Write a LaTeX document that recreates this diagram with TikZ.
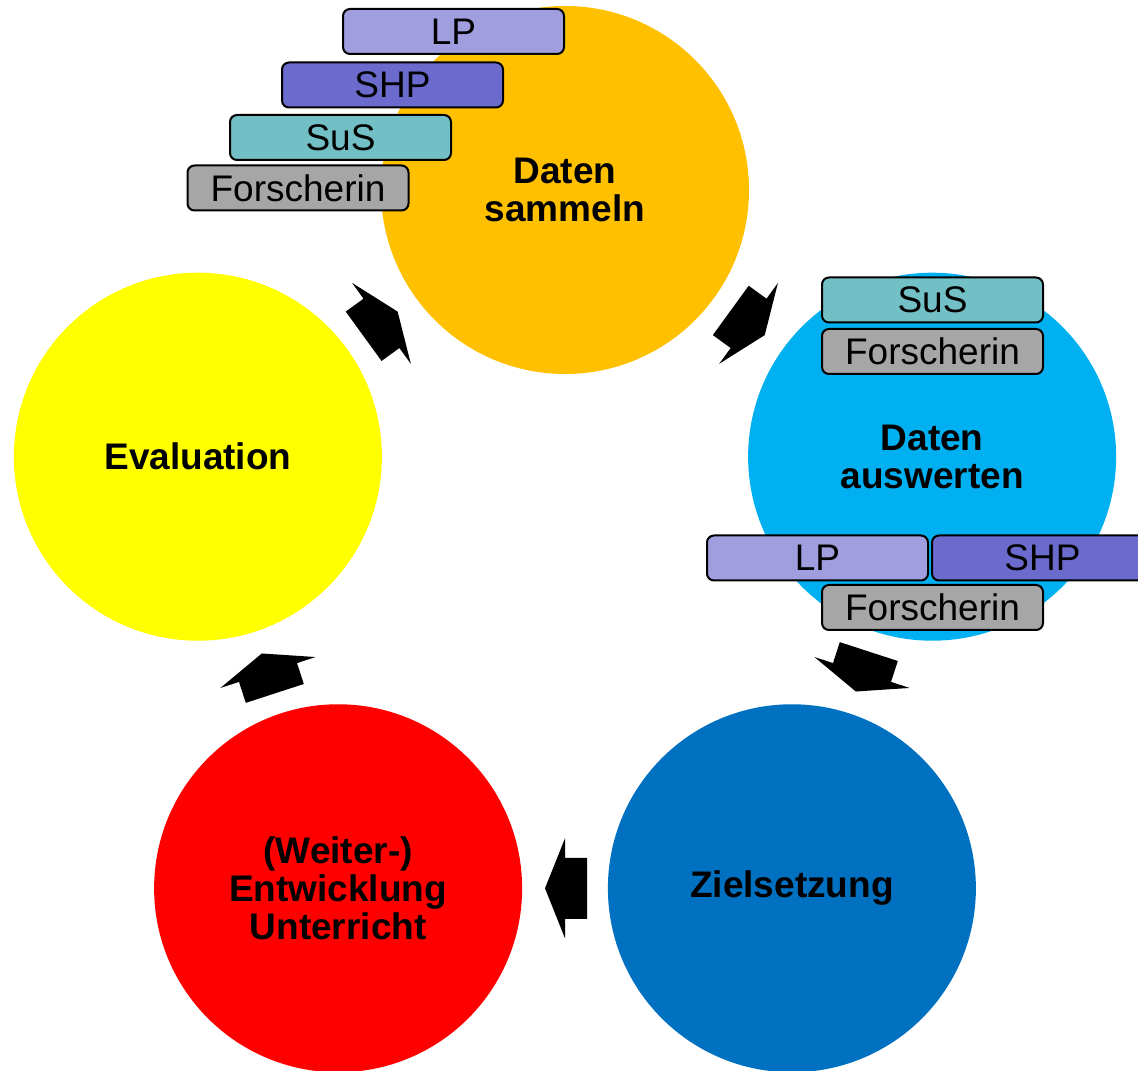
\documentclass[tikz,border=0pt]{standalone}
\usepackage{fontspec}
\setmainfont{Liberation Sans}
\usetikzlibrary{calc,positioning}

\definecolor{sammelnfill}{RGB}{255,192,0}
\definecolor{auswertenfill}{RGB}{0,176,240}
\definecolor{zielfill}{RGB}{0,112,192}
\definecolor{entwfill}{RGB}{255,0,0}
\definecolor{evalfill}{RGB}{255,255,0}
\definecolor{lpfill}{RGB}{160,158,222}
\definecolor{shpfill}{RGB}{107,107,206}
\definecolor{susfill}{RGB}{114,191,197}
\definecolor{forschfill}{RGB}{166,166,166}

\tikzset{
  phase/.style={circle, minimum size=184pt, inner sep=0pt, align=center,
    font=\fontsize{18.5}{19}\selectfont\bfseries},
  role/.style={draw, line width=1pt, rounded corners=3.5pt, minimum width=110.5pt,
    minimum height=22.5pt, inner sep=0pt, font=\fontsize{18.5}{19}\selectfont},
  pics/cycarrow/.style={code={
    \fill[black] (20,0) -- (0,50) -- (0,30.5) -- (-22,30.5) -- (-22,-30.5)
      -- (0,-30.5) -- (0,-50) -- cycle;}}
}

\begin{document}
\begin{tikzpicture}[x=0.5pt,y=0.5pt]
  \useasboundingbox (0,0) rectangle (1138,1070);
  % The five phases on a pentagon
  \coordinate (m) at (565,494);
  \node[phase, fill=sammelnfill]   (sammeln)   at ($(m)+(90:386)$)   {Daten\\sammeln};
  \node[phase, fill=auswertenfill] (auswerten) at ($(m)+(18:386)$)   {Daten\\auswerten};
  \node[phase, fill=zielfill]      (ziel)      at ($(m)+(-54:386)$)  {Zielsetzung};
  \node[phase, fill=entwfill]      (entw)      at ($(m)+(-126:386)$) {(Weiter-)\\Entwicklung\\Unterricht};
  \node[phase, fill=evalfill]      (eval)      at ($(m)+(162:386)$)  {Evaluation};
  % Arrows of the cycle
  \pic[rotate=-36]  at ($(sammeln)!0.5!(auswerten)$) {cycarrow};
  \pic[rotate=-108] at ($(auswerten)!0.5!(ziel)$)    {cycarrow};
  \pic[rotate=180]  at ($(ziel)!0.5!(entw)$)         {cycarrow};
  \pic[rotate=108]  at ($(entw)!0.5!(eval)$)         {cycarrow};
  \pic[rotate=36]   at ($(eval)!0.5!(sammeln)$)      {cycarrow};
  % Roles at Daten sammeln
  \node[role, fill=lpfill]     (lp1)  at (453.5,1038.5) {LP};
  \node[role, fill=shpfill]    (shp1) at (392.5,985)    {SHP};
  \node[role, fill=susfill]    (sus1) at (340.5,932.5)  {SuS};
  \node[role, fill=forschfill] (fo1)  at (298,882)      {Forscherin};
  % Roles at Daten auswerten
  \node[role, fill=susfill]    (sus2) at (932.5,770)    {SuS};
  \node[role, fill=forschfill] (fo2)  at (932.5,718.5)  {Forscherin};
  \node[role, fill=lpfill]     (lp2)  at (817.5,512)    {LP};
  \node[role, fill=shpfill]    (shp2) at (1042.5,512)   {SHP};
  \node[role, fill=forschfill] (fo3)  at (932.5,462.5)  {Forscherin};
\end{tikzpicture}
\end{document}
